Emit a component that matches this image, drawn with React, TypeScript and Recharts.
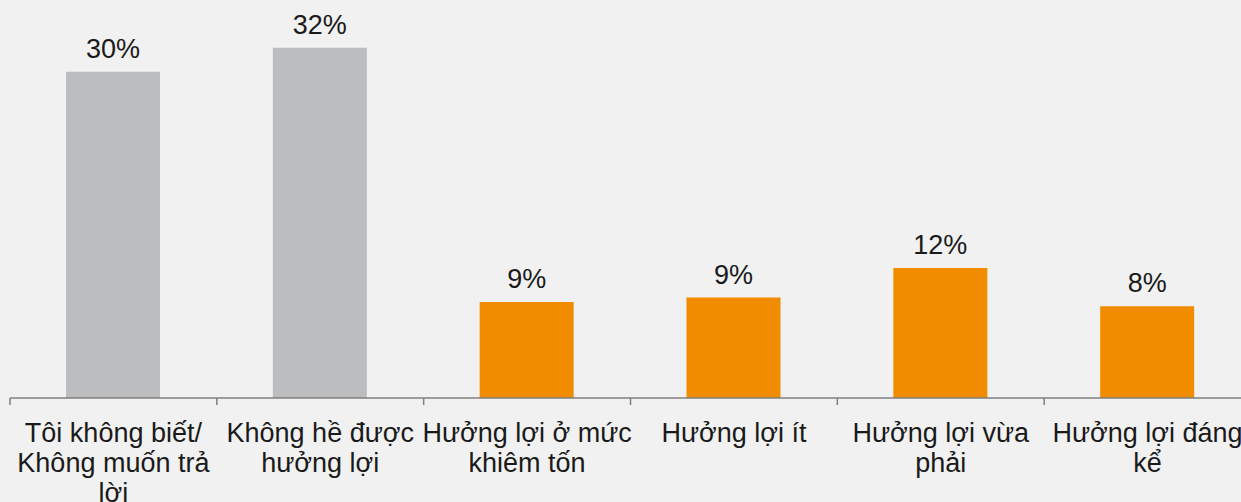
import { Bar, BarChart, Cell, LabelList, XAxis, YAxis } from "recharts";

const categories = [
  "Tôi không biết/\nKhông muốn trả\nlời",
  "Không hề được\nhưởng lợi",
  "Hưởng lợi ở mức\nkhiêm tốn",
  "Hưởng lợi ít",
  "Hưởng lợi vừa\nphải",
  "Hưởng lợi đáng\nkể",
];
const shares = [29.9, 32.1, 8.8, 9.2, 11.9, 8.4];
const isBenefit = [false, false, true, true, true, true];

const data = categories.map((name, i) => ({
  name,
  value: shares[i],
  benefit: isBenefit[i],
}));

const FONT = "'Liberation Sans', Arial, sans-serif";
const AXIS = "#7f7f7f";

// label lines + tick marks at the band edges (Excel style)
function CategoryTick({ x, y, payload, index, visibleTicksCount }: any) {
  const lines = String(payload.value).split("\n");
  const half = payload.offset ?? 0;
  const isLast = index === visibleTicksCount - 1;
  return (
    <g>
      <line x1={x - half} x2={x - half} y1={y} y2={y + 7} stroke={AXIS} strokeWidth={1.5} />
      {isLast && (
        <line x1={x + half} x2={x + half} y1={y} y2={y + 7} stroke={AXIS} strokeWidth={1.5} />
      )}
      <text
        x={x}
        y={y}
        textAnchor="middle"
        fill="#1a1a1a"
        fontSize={27}
        fontFamily={FONT}
      >
        {lines.map((line, i) => (
          <tspan key={i} x={x} dy={i === 0 ? 44 : 30}>
            {line}
          </tspan>
        ))}
      </text>
    </g>
  );
}

export default function App() {
  return (
    <div
      style={{
        position: "fixed",
        top: 0,
        left: 0,
        width: 1241,
        height: 502,
        overflow: "hidden",
        background: "#f1f1f1",
      }}
    >
      <BarChart
        width={1260}
        height={502}
        data={data}
        margin={{ top: 16, right: 9, bottom: 0, left: 10 }}
      >
        <XAxis
          dataKey="name"
          height={104}
          stroke={AXIS}
          strokeWidth={1.5}
          tickLine={false}
          tickSize={0}
          tickMargin={0}
          interval={0}
          tick={<CategoryTick />}
        />
        <YAxis hide domain={[0, 35]} />
        <Bar dataKey="value" barSize={94} isAnimationActive={false}>
          {data.map((d, i) => (
            <Cell key={i} fill={d.benefit ? "#f18c00" : "#bcbdbf"} />
          ))}
          <LabelList
            dataKey="value"
            position="top"
            offset={14}
            formatter={(v: any) => `${Math.round(Number(v))}%`}
            fill="#1a1a1a"
            fontSize={27}
            fontFamily={FONT}
          />
        </Bar>
      </BarChart>
    </div>
  );
}
